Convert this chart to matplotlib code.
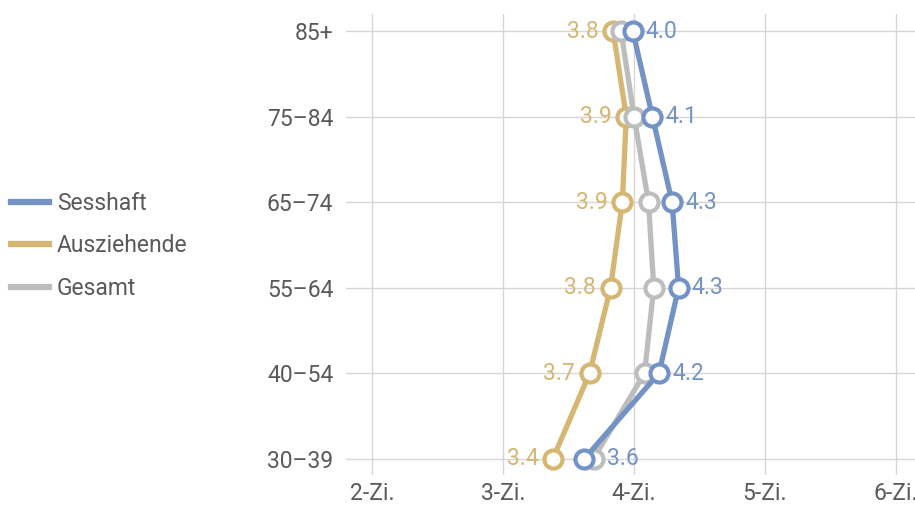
"""
Wohnungsgrösse (Zimmer) nach Altersgruppe: Sesshaft vs. Ausziehende
"""

import matplotlib.pyplot as plt
from matplotlib.lines import Line2D

plt.rcParams['font.family'] = ['Roboto', 'DejaVu Sans']

# Data (rows bottom to top)
age_groups = ['30–39', '40–54', '55–64', '65–74', '75–84', '85+']
sesshaft = [3.62, 4.19, 4.34, 4.29, 4.14, 3.99]
ausziehende = [3.38, 3.66, 3.82, 3.91, 3.94, 3.84]
gesamt = [3.69, 4.08, 4.15, 4.11, 4.00, 3.90]
x_ticks = [2, 3, 4, 5, 6]
x_labels = ['2-Zi.', '3-Zi.', '4-Zi.', '5-Zi.', '6-Zi.']

BLUE = '#7393c6'
GOLD = '#d5b672'
GRAY = '#bdbdbd'
TEXT = '#5a5a5a'
FS = 16.5

fig = plt.figure(figsize=(9.15, 5.07), dpi=100)
ax = fig.add_axes([346 / 915, 1 - 475 / 507, (915 - 346) / 915, (475 - 14) / 507])

ypos = list(range(len(age_groups)))

series = [
    (ausziehende, GOLD, 2),
    (gesamt, GRAY, 3),
    (sesshaft, BLUE, 4),
]
for vals, color, z in series:
    ax.plot(vals, ypos, color=color, lw=3.8, marker='o', markersize=13,
            markerfacecolor='white', markeredgecolor=color, markeredgewidth=3,
            zorder=z, solid_capstyle='round')

# value labels
for v, y in zip(sesshaft, ypos):
    xt = v + 0.1
    if y == 0:
        xt = gesamt[0] + 0.1
    ax.text(xt, y, f'{v:.1f}', color=BLUE, fontsize=FS, ha='left', va='center', zorder=6)
for v, y in zip(ausziehende, ypos):
    ax.text(v - 0.11, y, f'{v:.1f}', color=GOLD, fontsize=FS, ha='right', va='center', zorder=6)

ax.set_xlim(1.80, 6.145)
ax.set_ylim(-0.19, 5.2)
ax.set_xticks(x_ticks)
ax.set_xticklabels(x_labels)
ax.set_yticks(ypos)
ax.set_yticklabels(age_groups)
ax.tick_params(length=0, labelsize=FS, labelcolor=TEXT)
ax.tick_params(axis='x', pad=5)
ax.tick_params(axis='y', pad=9)
ax.grid(True, color='#d6d6d6', lw=1)
ax.set_axisbelow(True)
for s in ax.spines.values():
    s.set_visible(False)

handles = [
    Line2D([], [], color=BLUE, lw=4.5),
    Line2D([], [], color=GOLD, lw=4.5),
    Line2D([], [], color=GRAY, lw=4.5),
]
fig.legend(handles, ['Sesshaft', 'Ausziehende', 'Gesamt'], loc='upper left',
           bbox_to_anchor=(0.012, 1 - 192 / 507), frameon=False, fontsize=FS,
           handlelength=1.65, handletextpad=0.35, labelspacing=0.85,
           labelcolor=TEXT, borderaxespad=0.0, borderpad=0.0)

fig.savefig('out.png', dpi=100)
